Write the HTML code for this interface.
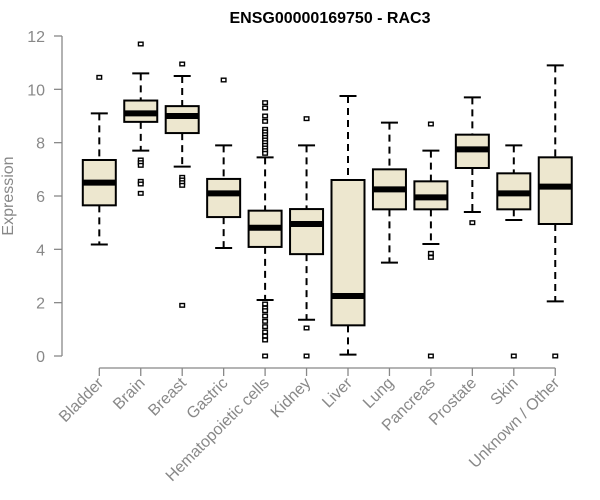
<!DOCTYPE html>
<html><head><meta charset="utf-8"><style>
body{margin:0;background:#fff}
svg{display:block;font-family:"Liberation Sans",Arial,sans-serif}
</style></head><body>
<svg id="chart" width="600" height="500">
<text x="330" y="23" text-anchor="middle" font-weight="bold" font-size="16" fill="#000">ENSG00000169750 - RAC3</text>
<text transform="translate(13,196) rotate(-90)" text-anchor="middle" font-size="16" fill="#888">Expression</text>
<g id="axes"></g><g id="marks"></g>
</svg>
<script>
const categories=["Bladder","Brain","Breast","Gastric","Hematopoietic cells","Kidney","Liver","Lung","Pancreas","Prostate","Skin","Unknown / Other"];
const mins=[4.18,7.7,7.1,4.05,2.1,1.36,0.05,3.5,4.2,5.4,5.1,2.05];
const q1s=[5.65,8.78,8.36,5.21,4.09,3.82,1.15,5.5,5.5,7.05,5.5,4.95];
const medians=[6.5,9.1,9.0,6.1,4.81,4.95,2.25,6.25,5.95,7.75,6.1,6.35];
const q3s=[7.35,9.58,9.37,6.64,5.45,5.51,6.6,7.0,6.55,8.3,6.85,7.45];
const maxs=[9.1,10.6,10.5,7.9,7.45,7.9,9.75,8.75,7.7,9.7,7.9,10.9];
const outliers=[[10.45],[11.7,7.35,7.25,7.15,6.55,6.45,6.1],[10.95,6.7,6.6,6.5,6.4,1.9],[10.35],
[9.5,9.3,9.0,8.8,8.5,8.4,8.3,8.2,8.1,8.0,7.9,7.8,7.7,7.6,1.95,1.8,1.7,1.5,1.3,1.1,0.9,0.75,0.6,0],
[8.9,1.05,0],[],[],[8.7,3.85,3.7,0],[5.0],[0],[0]];
const yTicks=[0,2,4,6,8,10,12];
const NS="http://www.w3.org/2000/svg";
const y=v=>356-v*26.667;
const x=i=>99.3+i*41.45;
function mk(tag,attrs,parent){const e=document.createElementNS(NS,tag);for(const k in attrs)e.setAttribute(k,attrs[k]);parent.appendChild(e);return e;}
const axes=document.getElementById('axes'),marks=document.getElementById('marks');
const yl=mk('line',{x1:62,x2:62,y1:y(12),y2:y(0),stroke:'#888','stroke-width':1.3},axes);


yTicks.forEach(t=>{
 const tl=mk('line',{x1:54,x2:62,y1:y(t),y2:y(t),stroke:'#888','stroke-width':1.3},axes);
 
 
 const tx=mk('text',{x:45,y:y(t)+6,'text-anchor':'end','font-size':16,fill:'#888'},axes);
 tx.textContent=t;
 
 
});
const xl=mk('line',{x1:x(0),x2:x(categories.length-1),y1:368,y2:368,stroke:'#888','stroke-width':1.3},axes);


categories.forEach((c,i)=>{
 const cx=x(i);
 const tl=mk('line',{x1:cx,x2:cx,y1:368,y2:376,stroke:'#888','stroke-width':1.3},axes);
 
 
 const tx=mk('text',{x:cx+5,y:384,'text-anchor':'end','font-size':16,fill:'#888',transform:`rotate(-45 ${cx+5} 384)`},axes);
 tx.textContent=c;
 
 
 const g=mk('g',{},marks);
 
 
 const w=33;
 mk('line',{x1:cx,x2:cx,y1:y(maxs[i]),y2:y(q3s[i]),stroke:'#000','stroke-width':2,'stroke-dasharray':'7 5'},g);
 mk('line',{x1:cx,x2:cx,y1:y(q1s[i]),y2:y(mins[i]),stroke:'#000','stroke-width':2,'stroke-dasharray':'7 5'},g);
 mk('line',{x1:cx-8.5,x2:cx+8.5,y1:y(maxs[i]),y2:y(maxs[i]),stroke:'#000','stroke-width':2},g);
 mk('line',{x1:cx-8.5,x2:cx+8.5,y1:y(mins[i]),y2:y(mins[i]),stroke:'#000','stroke-width':2},g);
 mk('rect',{x:cx-w/2,y:y(q3s[i]),width:w,height:y(q1s[i])-y(q3s[i]),fill:'#ede7cf',stroke:'#000','stroke-width':2},g);
 mk('line',{x1:cx-w/2,x2:cx+w/2,y1:y(medians[i]),y2:y(medians[i]),stroke:'#000','stroke-width':6},g);
 outliers[i].forEach(o=>{
  const r=mk('rect',{x:cx-2.3,y:y(o)-1.8,width:4.6,height:3.6,fill:'#fff',stroke:'#000','stroke-width':1.4},g);
  
  
 });
});
</script>
</body></html>
